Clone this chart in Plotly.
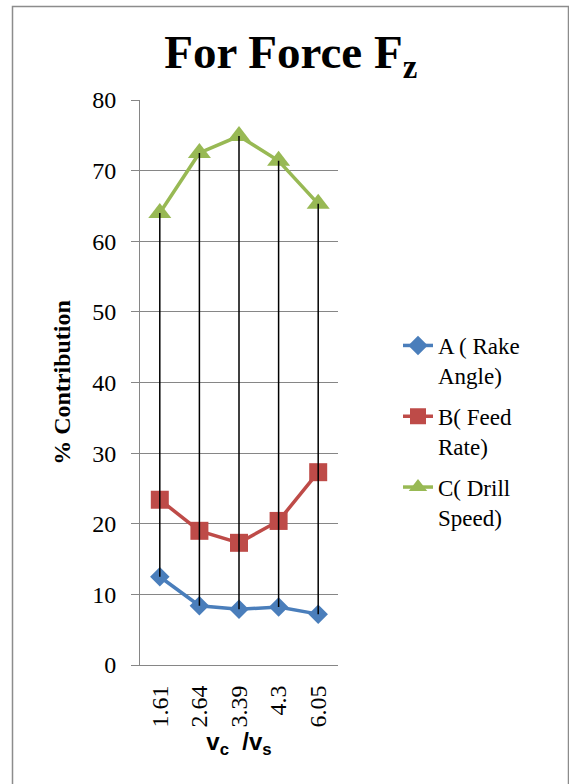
import plotly.graph_objects as go

categories = ["1.61", "2.64", "3.39", "4.3", "6.05"]
rake_angle = [12.5, 8.4, 7.9, 8.2, 7.2]
feed_rate = [23.4, 19.0, 17.3, 20.4, 27.3]
drill_speed = [64.0, 72.5, 74.9, 71.4, 65.3]

W, H = 569, 784
L, R, T, B = 140, 231, 100, 119

def px_x(p):
    return (p - L) / (W - L - R)

def px_y(p):
    return (H - B - p) / (H - T - B)

fig = go.Figure()
series = [
    ("A ( Rake<br>Angle)", rake_angle, "#4A7EBB", "diamond", 15),
    ("B( Feed<br>Rate)", feed_rate, "#BE4B48", "square", 18),
    ("C( Drill<br>Speed)", drill_speed, "#98B954", "triangle-up", 20),
]
for i, (name, vals, col, sym, sz) in enumerate(series):
    fig.add_trace(go.Scatter(
        x=categories, y=vals, name=name, mode="lines+markers",
        line=dict(color=col, width=3.5),
        marker=dict(symbol=sym, size=sz, color=col),
        legendgroup=str(i),
    ))

# high-low lines
hx, hy = [], []
for c, lo, hi in zip(categories, rake_angle, drill_speed):
    hx += [c, c, None]
    hy += [hi, lo, None]
fig.add_trace(go.Scatter(x=hx, y=hy, mode="lines", line=dict(color="black", width=1.5),
                         showlegend=False, hoverinfo="skip"))

serif = "Liberation Serif"
fig.update_layout(
    width=W, height=H,
    margin=dict(l=L, r=R, t=T, b=B),
    paper_bgcolor="white", plot_bgcolor="white",
    title=dict(text="<b>For Force F<sub>z</sub></b>", x=0.511, xref="container", xanchor="center",
               y=1 - 52 / H, yref="container", yanchor="middle",
               font=dict(family=serif, size=47, color="black")),
    font=dict(family=serif, color="black"),
    showlegend=True,
    legend=dict(x=px_x(398), y=px_y(324), xanchor="left", yanchor="top",
                font=dict(family=serif, size=23, color="black"),
                tracegroupgap=8, valign="top", bgcolor="rgba(0,0,0,0)"),
    xaxis=dict(type="category", showgrid=False, showline=True, linecolor="#868686", linewidth=1,
               ticks="", tickangle=-90, tickfont=dict(family=serif, size=24, color="black"),
               ticklabelstandoff=10,
               title=dict(text="<b>v<sub>c</sub>  /v<sub>s</sub></b>",
                          font=dict(family="Liberation Sans", size=24, color="black"),
                          standoff=4),
               zeroline=False, range=[-0.5, 4.5]),
    yaxis=dict(range=[0, 80], dtick=10, showgrid=True, gridcolor="#868686", gridwidth=1,
               showline=True, linecolor="#868686", linewidth=1, ticks="outside", ticklen=8,
               tickcolor="#868686", tickfont=dict(family=serif, size=24, color="black"),
               ticklabelstandoff=10, zeroline=False,
               title=dict(text="<b>% Contribution</b>", font=dict(family=serif, size=24, color="black"),
                          standoff=14)),
    shapes=[dict(type="rect", xref="paper", yref="paper",
                 x0=px_x(12.5), x1=px_x(568.5), y0=px_y(6.5), y1=px_y(800),
                 line=dict(color="#8c8c8c", width=1.5), fillcolor="rgba(0,0,0,0)", layer="below")],
)

fig.write_html("out.html")
